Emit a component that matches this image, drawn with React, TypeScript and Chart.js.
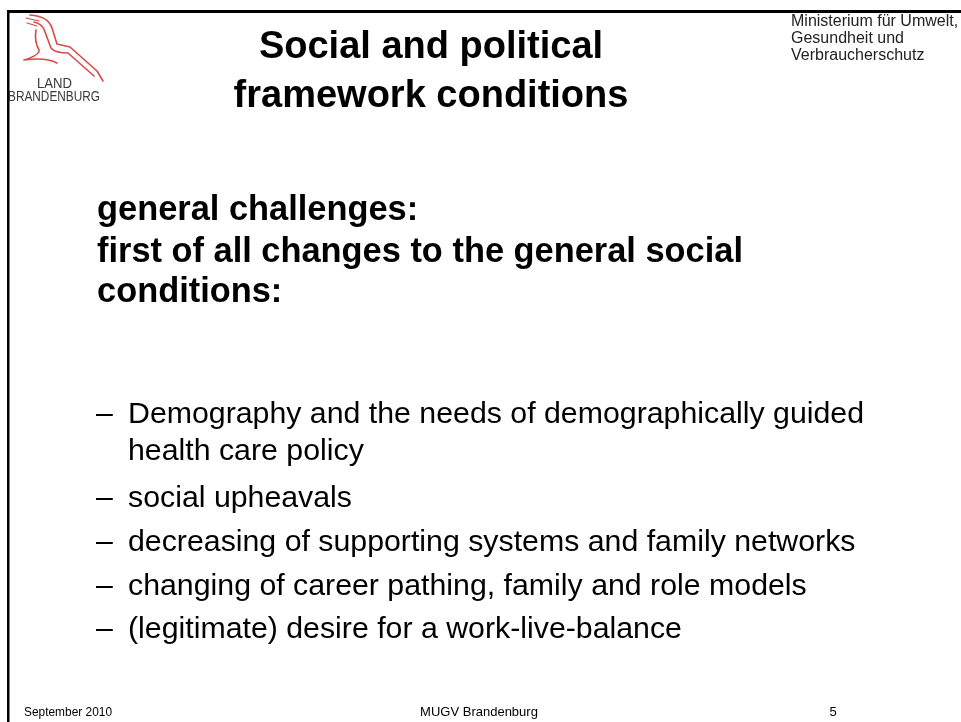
import React, { useEffect, useRef } from "react";
import { Chart, registerables } from "chart.js";

Chart.register(...registerables);

// ---- slide content ----
const titleLines = ["Social and political", "framework conditions"];
const ministryLines = ["Ministerium für Umwelt,", "Gesundheit und", "Verbraucherschutz"];
const logoLines = ["LAND", "BRANDENBURG"];
const headingLines = [
  "general challenges:",
  "first of all changes to the general social",
  "conditions:",
];
const bulletItems = [
  ["Demography and the needs of demographically guided", "health care policy"],
  ["social upheavals"],
  ["decreasing of supporting systems and family networks"],
  ["changing of career pathing, family and role models"],
  ["(legitimate) desire for a work-live-balance"],
];
const footerTexts = ["September 2010", "MUGV Brandenburg", "5"];

const FONT = "'Liberation Sans', Arial, Helvetica, sans-serif";

const slidePlugin = {
  id: "slideText",
  afterDraw(chart: any) {
    const ctx: CanvasRenderingContext2D = chart.ctx;
    ctx.save();
    // frame
    ctx.fillStyle = "#000";
    ctx.fillRect(7, 10, 961, 3);
    ctx.fillRect(7, 10, 2.5, 720);

    // logo bird
    ctx.strokeStyle = "#d84a4a";
    ctx.lineWidth = 1.6;
    ctx.lineCap = "round";
    ctx.lineJoin = "round";
    ctx.beginPath();
    ctx.moveTo(30, 15);
    ctx.quadraticCurveTo(48, 16, 52, 28);
    ctx.lineTo(57, 44);
    ctx.lineTo(70, 47);
    ctx.lineTo(97, 71);
    ctx.lineTo(103, 81);
    ctx.stroke();
    ctx.beginPath();
    ctx.moveTo(34, 22);
    ctx.quadraticCurveTo(43, 24, 45, 32);
    ctx.lineTo(51, 48);
    ctx.quadraticCurveTo(55, 53, 68, 53);
    ctx.lineTo(94, 76);
    ctx.stroke();
    ctx.beginPath();
    ctx.moveTo(36, 30);
    ctx.quadraticCurveTo(34, 41, 39, 50);
    ctx.quadraticCurveTo(40, 55, 24, 60);
    ctx.quadraticCurveTo(46, 57, 57, 63);
    ctx.stroke();
    ctx.lineWidth = 1.2;
    ctx.beginPath();
    ctx.moveTo(26, 18);
    ctx.lineTo(39, 21);
    ctx.moveTo(27, 23);
    ctx.lineTo(37, 26);
    ctx.stroke();

    ctx.fillStyle = "#3a3a3a";
    ctx.textBaseline = "alphabetic";
    ctx.textAlign = "left";
    ctx.font = `15px ${FONT}`;
    ctx.fillText(logoLines[0], 37, 88, 35);
    ctx.fillText(logoLines[1], 8, 101, 92);

    // ministry text
    ctx.fillStyle = "#222";
    ctx.font = `16px ${FONT}`;
    ministryLines.forEach((t, i) => ctx.fillText(t, 791, 26 + i * 17, 172));

    // heading
    ctx.fillStyle = "#000";
    ctx.font = `bold 34.4px ${FONT}`;
    const hBase = [220, 262, 302];
    headingLines.forEach((t, i) => ctx.fillText(t, 97, hBase[i]));

    // bullets
    ctx.font = `30.3px ${FONT}`;
    const bBase = [[423, 460], [507], [551], [595], [638]];
    bulletItems.forEach((item, bi) => {
      ctx.fillText("\u2013", 96, bBase[bi][0]);
      item.forEach((line, li) => ctx.fillText(line, 128, bBase[bi][li]));
    });

    // footer
    ctx.fillStyle = "#000";
    ctx.font = `13px ${FONT}`;
    ctx.textAlign = "left";
    ctx.fillText(footerTexts[0], 24, 716, 88);
    ctx.textAlign = "center";
    ctx.fillText(footerTexts[1], 479, 716);
    ctx.fillText(footerTexts[2], 833, 716);
    ctx.restore();
  },
};

export default function App() {
  const ref = useRef<HTMLCanvasElement | null>(null);
  useEffect(() => {
    document.body.style.margin = "0";
    document.body.style.background = "#fff";
    const canvas = ref.current!;
    const chart = new Chart(canvas, {
      type: "scatter",
      data: { datasets: [] },
      options: {
        responsive: false,
        animation: false,
        layout: { padding: { left: 0, right: 99, top: 0, bottom: 0 } },
        scales: { x: { display: false }, y: { display: false } },
        plugins: {
          legend: { display: false },
          tooltip: { enabled: false },
          title: {
            display: true,
            text: titleLines,
            color: "#000",
            align: "center",
            font: { family: FONT, size: 38, weight: "bold", lineHeight: 1.29 },
            padding: { top: 23, bottom: 0 },
          },
        },
      },
      plugins: [slidePlugin],
    });
    return () => chart.destroy();
  }, []);
  return (
    <canvas
      ref={ref}
      width={961}
      height={722}
      style={{ display: "block", width: 961, height: 722 }}
    />
  );
}
